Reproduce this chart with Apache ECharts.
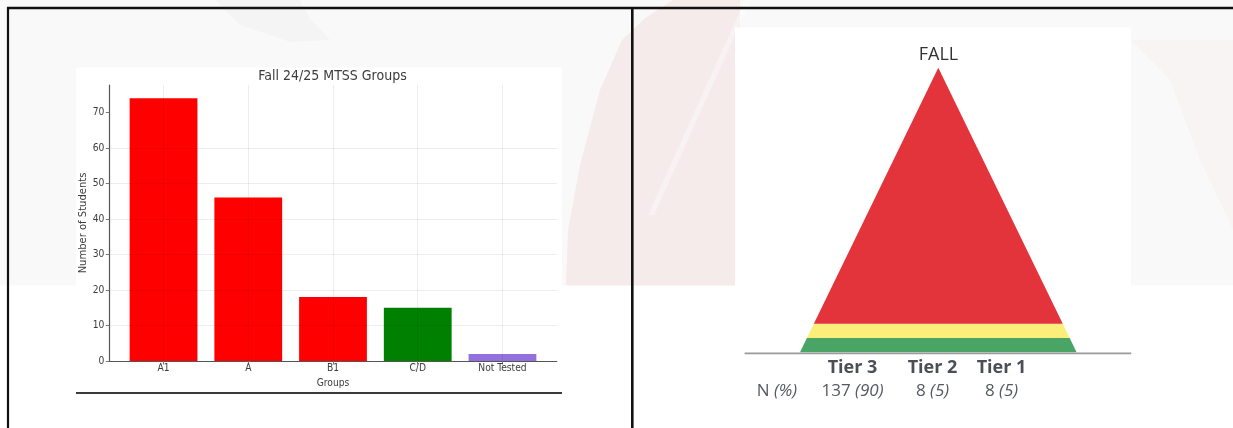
<!DOCTYPE html>
<html>
<head>
<meta charset="utf-8">
<script src="https://cdn.jsdelivr.net/npm/echarts@6/dist/echarts.min.js"></script>
<style>
  html, body { margin: 0; padding: 0; background: #ffffff; }
  #chart { width: 1233px; height: 428px; }
</style>
</head>
<body>
<div id="chart"></div>
<script>
// Fall 24/25 MTSS groups
const groups = ['A1', 'A', 'B1', 'C/D', 'Not Tested'];
const students = [74, 46, 18, 15, 2];
const studentTicks = [0, 10, 20, 30, 40, 50, 60, 70];

// Fall tier pyramid, listed from the top of the pyramid down
const tiers = ['Tier 3', 'Tier 2', 'Tier 1'];
const tierCounts = [137, 8, 8];
const tierPercents = [90, 5, 5];

// styling
const barColors = ['#ff0000', '#ff0000', '#ff0000', '#008000', '#9370db'];
const tierColors = ['#e3343c', '#fbee7b', '#49a465'];
const tierColumnX = [852.5, 932.5, 1001.5];
const mplFont = "'DejaVu Sans Condensed', 'DejaVu Sans', sans-serif";
const mplFontWide = "'DejaVu Sans', sans-serif";
const tableFont = "'Open Sans', 'Noto Sans', sans-serif";

// pyramid bands stacked from the base upwards: [bottom %, top %, tier index]
const pyramidBands = [];
let acc = 0;
for (let i = tiers.length - 1; i >= 0; i--) {
  pyramidBands.push([acc, acc + tierPercents[i], i]);
  acc += tierPercents[i];
}

const groupIndex = groups.map((g, i) => i);

const chart = echarts.init(document.getElementById('chart'), null, { renderer: 'canvas' });

const italic = { fontStyle: 'italic', fontSize: 17, fontFamily: tableFont, fill: '#555a60' };

const graphics = [
  // page background: pale band at the top, white below
  { type: 'rect', z: -10, shape: { x: 0, y: 0, width: 1233, height: 285.5 }, style: { fill: '#f9f9f9' } },
  // faint logo shapes in the band
  { type: 'polygon', z: -9, shape: { points: [[673, 0], [645, 18], [622, 40], [600, 90], [580, 165], [568, 230], [566, 285.5], [740, 285.5], [740, 0]] },
    style: { fill: 'rgba(215,60,60,0.07)' } },
  { type: 'polygon', z: -9, shape: { points: [[745, 0], [751, 0], [654, 215], [648, 215]] },
    style: { fill: 'rgba(255,255,255,0.35)' } },
  { type: 'polygon', z: -9, shape: { points: [[215, 0], [240, 25], [290, 42], [330, 40], [310, 18], [300, 0]] },
    style: { fill: 'rgba(0,0,0,0.02)' } },
  { type: 'polygon', z: -9, shape: { points: [[1131, 40], [1170, 80], [1200, 160], [1233, 230], [1233, 40]] },
    style: { fill: 'rgba(215,60,60,0.025)' } },
  // chart cards
  { type: 'rect', z: -8, shape: { x: 76, y: 67.5, width: 486, height: 325 }, style: { fill: '#ffffff' } },
  { type: 'rect', z: -8, shape: { x: 735, y: 27.5, width: 396, height: 400 }, style: { fill: '#ffffff' } },
  // rule under the bar chart
  { type: 'line', z: 5, shape: { x1: 76, y1: 393, x2: 562, y2: 393 }, style: { stroke: '#3a3a3a', lineWidth: 2 } },
  // frame lines
  { type: 'line', z: 20, shape: { x1: 7, y1: 8, x2: 1233, y2: 8 }, style: { stroke: '#111111', lineWidth: 2.6 } },
  { type: 'line', z: 20, shape: { x1: 8, y1: 7, x2: 8, y2: 428 }, style: { stroke: '#111111', lineWidth: 2.2 } },
  { type: 'line', z: 20, shape: { x1: 632.3, y1: 7, x2: 632.3, y2: 428 }, style: { stroke: '#111111', lineWidth: 2.6 } },
  // pyramid title and base line
  { type: 'text', z: 10, x: 938.5, y: 54.5,
    style: { text: 'FALL', font: '18px ' + tableFont, fill: '#333333', align: 'center', verticalAlign: 'middle' } },
  { type: 'line', z: 10, shape: { x1: 744.6, y1: 353.3, x2: 1131.2, y2: 353.3 }, style: { stroke: '#9a9a9a', lineWidth: 1.8 } },
  // table row labels
  { type: 'text', z: 10, x: 777, y: 391.5,
    style: { text: 'N {i|(%)}', font: '17px ' + tableFont, fill: '#555a60', align: 'center', verticalAlign: 'middle',
      rich: { i: italic } } }
];

tiers.forEach((t, i) => {
  graphics.push({ type: 'text', z: 10, x: tierColumnX[i], y: 368,
    style: { text: t, font: 'bold 18px ' + tableFont, fill: '#4a4e56', align: 'center', verticalAlign: 'middle' } });
  graphics.push({ type: 'text', z: 10, x: tierColumnX[i], y: 391.5,
    style: { text: tierCounts[i] + ' {i|(' + tierPercents[i] + ')}', font: '17px ' + tableFont, fill: '#555a60',
      align: 'center', verticalAlign: 'middle', rich: { i: italic } } });
});

const axisText = { fontFamily: mplFont, fontSize: 10.2, color: '#3c3c3c' };

chart.setOption({
  animation: false,
  backgroundColor: 'transparent',
  title: {
    text: 'Fall 24/25 MTSS Groups',
    left: 332.5, top: 69, textAlign: 'center', padding: 0,
    textStyle: { fontFamily: mplFont, fontSize: 14, fontWeight: 'normal', color: '#3c3c3c' }
  },
  graphic: graphics,
  grid: [
    { left: 109.3, top: 85, width: 447.4, height: 276, containLabel: false },
    { left: 800, top: 67.7, width: 276.6, height: 284.6, containLabel: false }
  ],
  xAxis: [
    {
      gridIndex: 0, type: 'value', min: -0.64, max: 4.64, z: 3,
      name: 'Groups', nameLocation: 'middle', nameGap: 13.5,
      nameTextStyle: axisText,
      axisLine: { show: true, onZero: false, lineStyle: { color: '#555555', width: 1.2 } },
      axisTick: { show: true, customValues: groupIndex, length: 3.5, lineStyle: { color: '#777777' } },
      axisLabel: { customValues: groupIndex, formatter: v => groups[v] ?? '', margin: 2, ...axisText },
      splitLine: { show: true, lineStyle: { color: 'rgba(0,0,0,0.07)', width: 1 } }
    },
    { gridIndex: 1, type: 'value', min: -1, max: 1, show: false }
  ],
  yAxis: [
    {
      gridIndex: 0, type: 'value', min: 0, max: 77.7, z: 3,
      name: 'Number of Students', nameLocation: 'middle', nameGap: 15, nameRotate: 90,
      nameTextStyle: { ...axisText, fontFamily: mplFontWide, fontSize: 10 },
      axisLine: { show: true, onZero: false, lineStyle: { color: '#555555', width: 1.2 } },
      axisTick: { show: true, customValues: studentTicks, length: 3.5, lineStyle: { color: '#777777' } },
      axisLabel: { customValues: studentTicks, margin: 5, ...axisText },
      splitLine: { show: true, showMaxLine: false, lineStyle: { color: 'rgba(0,0,0,0.07)', width: 1 } }
    },
    { gridIndex: 1, type: 'value', min: 0, max: 100, show: false }
  ],
  series: [
    {
      type: 'bar', xAxisIndex: 0, yAxisIndex: 0, barWidth: '80%',
      data: groups.map((g, i) => ({ value: [i, students[i]], name: g, itemStyle: { color: barColors[i] } }))
    },
    {
      type: 'custom', xAxisIndex: 1, yAxisIndex: 1,
      data: pyramidBands,
      renderItem: (params, api) => {
        const lo = api.value(0), hi = api.value(1), tier = api.value(2);
        const half = v => 1 - v / 100;
        const pts = [
          api.coord([-half(lo), lo]), api.coord([half(lo), lo]),
          api.coord([half(hi), hi]), api.coord([-half(hi), hi])
        ];
        return { type: 'polygon', shape: { points: pts }, style: { fill: tierColors[tier] } };
      }
    }
  ]
});
</script>
</body>
</html>
